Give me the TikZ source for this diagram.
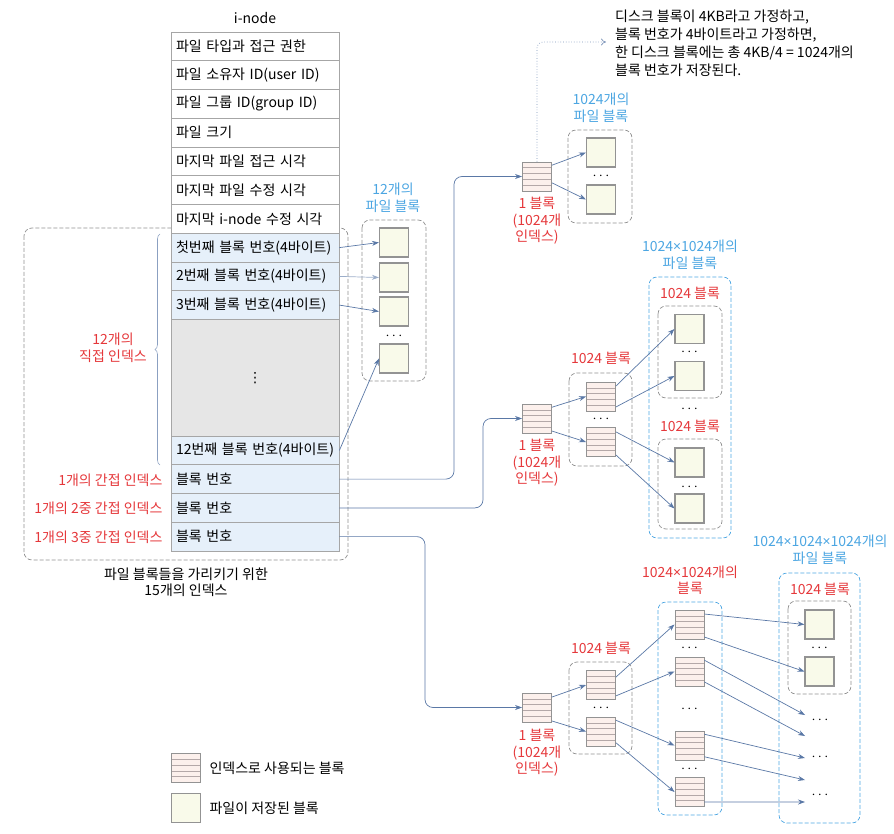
\documentclass[tikz,border=0pt]{standalone}
\usepackage{fontspec}
\setmainfont{Noto Sans CJK KR}
\newfontfamily\latinfont{Noto Sans}
\newfontfamily\symfont{DejaVu Sans}
\newcommand{\mul}{{\latinfont ×}}
\usetikzlibrary{arrows.meta, calc, decorations.pathreplacing}

\definecolor{tblgray}{HTML}{A6A6A6}
\definecolor{rowblue}{HTML}{E6F0FA}
\definecolor{gapgray}{HTML}{E6E6E6}
\definecolor{idxpink}{HTML}{FCF0EC}
\definecolor{idxline}{HTML}{B4A8A8}
\definecolor{fileyel}{HTML}{F9FAEA}
\definecolor{boxgray}{HTML}{909090}
\definecolor{arrblue}{HTML}{5A78A6}
\definecolor{lblred}{HTML}{E5383B}
\definecolor{lblblue}{HTML}{4CA6E2}

\tikzset{
  irow/.style={draw=tblgray, line width=0.8pt, fill=white, minimum width=168pt,
    minimum height=28.75pt, text width=158pt, inner xsep=5pt, inner ysep=0pt, align=left},
  fblock/.style={draw=gray!85, line width=1.1pt, fill=fileyel, minimum width=29pt,
    minimum height=29pt, inner sep=0pt},
  iblock/.style={draw=gray!85, line width=0.9pt, fill=idxpink, minimum width=29pt,
    minimum height=29pt, inner sep=0pt,
    path picture={\foreach \k in {0.2,0.4,0.6,0.8}
      \draw[idxline, line width=0.6pt]
        ($(path picture bounding box.north west)!\k!(path picture bounding box.south west)$) --
        ($(path picture bounding box.north east)!\k!(path picture bounding box.south east)$);}},
  grp/.style={draw=boxgray, dash pattern=on 4pt off 2pt, line width=0.7pt, rounded corners=8pt},
  bgrp/.style={grp, draw=lblblue},
  conn/.style={draw=arrblue, line width=0.7pt, -{Stealth[length=7pt,width=5pt]}},
  redlbl/.style={text=lblred, align=center, font=\fontsize{14}{16.5}\selectfont},
  bluelbl/.style={text=lblblue, align=center, font=\fontsize{14}{17.5}\selectfont},
  dotsn/.style={inner sep=0pt},
}

\begin{document}
\begin{tikzpicture}[x=1pt, y=-1pt, font=\fontsize{14}{16}\selectfont]
  \useasboundingbox (0,0) rectangle (894,834);

  % gruppi tratteggiati
  \draw[grp] (24,228) rectangle (348,560);
  \draw[grp] (362,220) rectangle (426,381);
  \draw[grp] (568,130) rectangle (632,223);
  \draw[grp] (569,373) rectangle (632,466);
  \draw[bgrp] (649,277) rectangle (731,538);
  \draw[grp] (658,306) rectangle (722,398);
  \draw[grp] (658,439) rectangle (722,529);
  \draw[grp] (569,662) rectangle (632,754);
  \draw[bgrp] (658,602) rectangle (722,815);
  \draw[bgrp] (779,573) rectangle (860,823);
  \draw[grp] (788,601) rectangle (851,694);

  % tabella i-node
  \node (inode) at (255,18) {i-node};
  \foreach \txt [count=\i] in {파일 타입과 접근 권한, 파일 소유자 ID(user ID), 파일 그룹 ID(group ID),
      파일 크기, 마지막 파일 접근 시각, 마지막 파일 수정 시각, 마지막 i-node 수정 시각}
    \node[irow] (r\i) at (255, {32+28.75*\i-14.375}) {\txt};
  \node[irow, fill=rowblue] (d1) at (255,247.6) {첫번째 블록 번호(4바이트)};
  \node[irow, fill=rowblue] (d2) at (255,276.4) {2번째 블록 번호(4바이트)};
  \node[irow, fill=rowblue] (d3) at (255,305.1) {3번째 블록 번호(4바이트)};
  \node[irow, fill=gapgray, minimum height=116.5pt, align=center] (gap) at (255,377.75) {\symfont ⋮};
  \node[irow, fill=rowblue] (d12) at (255,450.4) {\mbox{12번째 블록 번호(4바이트)}};
  \node[irow, fill=rowblue] (ind1) at (255,479.1) {블록 번호};
  \node[irow, fill=rowblue] (ind2) at (255,507.9) {블록 번호};
  \node[irow, fill=rowblue] (ind3) at (255,536.6) {블록 번호};

  % etichette a sinistra
  \draw[draw=arrblue!70, line width=0.6pt, decorate, decoration={brace, amplitude=5pt}] (160,465) -- (160,234);
  \node[redlbl] (dirlbl) at (113,348) {12개의\\직접 인덱스};
  \node[redlbl, anchor=east] (lbl1) at (166,480) {1개의 간접 인덱스};
  \node[redlbl, anchor=east] (lbl2) at (166,508) {1개의 2중 간접 인덱스};
  \node[redlbl, anchor=east] (lbl3) at (166,537) {1개의 3중 간접 인덱스};
  \node[align=center] (caption) at (186,582) {파일 블록들을 가리키기 위한\\15개의 인덱스};

  % blocchi diretti
  \node[bluelbl] (dirtitle) at (393,198) {12개의\\파일 블록};
  \node[fblock] (fd1) at (394,242.5) {};
  \node[fblock] (fd2) at (394,277.5) {};
  \node[fblock] (fd3) at (394,311.5) {};
  \node[dotsn] (fddots) at (394,336) {$\cdots$};
  \node[fblock] (fd4) at (394,358.5) {};
  \draw[conn] (d1.east) -- (fd1.west);
  \draw[conn, draw=arrblue!60] (d2.east) -- (fd2.west);
  \draw[conn] (d3.east) -- (fd3.west);
  \draw[conn] (d12.east) -- (fd4.west);

  % nota
  \node[anchor=west, align=left, inner sep=0pt, font=\fontsize{14}{18}\selectfont] (note) at (615,43)
    {디스크 블록이 4KB라고 가정하고,\\블록 번호가 4바이트라고 가정하면,\\한 디스크 블록에는 총 4KB/4 = 1024개의\\블록 번호가 저장된다.};

  % indiretto singolo
  \node[iblock] (ib1) at (537,176.5) {};
  \node[redlbl] (iblbl) at (537,221) {1 블록\\(1024개\\인덱스)};
  \node[bluelbl] (satitle) at (601,108) {1024개의\\파일 블록};
  \node[fblock] (fa1) at (601,152.5) {};
  \node[dotsn] (fadots) at (601,176) {$\cdots$};
  \node[fblock] (fa2) at (601,199.5) {};
  \coordinate (bendA) at (454,176.5);
  \coordinate (notetip) at (606,42);
  \draw[conn, rounded corners=8pt] (ind1.east) -| (bendA) -- (ib1.west);
  \draw[draw=arrblue!80, dotted, line width=0.7pt, rounded corners=6pt, -{To[length=5pt,width=7pt]}] (ib1.north) |- (notetip);
  \draw[conn] (ib1.37) -- (fa1.west);
  \draw[conn] (ib1.-23) -- (fa2.west);

  % indiretto doppio
  \node[iblock] (id0) at (537,418.5) {};
  \node[redlbl] (idlbl) at (537,463) {1 블록\\(1024개\\인덱스)};
  \node[redlbl] (idgrp) at (601,358) {1024 블록};
  \node[iblock] (id1) at (601,396.5) {};
  \node[dotsn] (iddots) at (601,419) {$\cdots$};
  \node[iblock] (id2) at (601,442) {};
  \node[bluelbl] (dbtitle) at (690,255) {1024\mul1024개의\\파일 블록};
  \node[redlbl] (fbgrp1) at (690,293) {1024 블록};
  \node[fblock] (fb1) at (689.5,329) {};
  \node[dotsn] (fbdots1) at (689.5,352) {$\cdots$};
  \node[fblock] (fb2) at (689.5,376) {};
  \node[dotsn] (fbdots) at (689.5,409) {$\cdots$};
  \node[redlbl] (fbgrp2) at (690,426) {1024 블록};
  \node[fblock] (fb3) at (689.5,462.5) {};
  \node[dotsn] (fbdots2) at (689.5,487) {$\cdots$};
  \node[fblock] (fb4) at (689.5,508.5) {};
  \coordinate (bendB) at (483,418.5);
  \draw[conn, rounded corners=8pt] (ind2.east) -| (bendB) -- (id0.west);
  \draw[conn] (id0.37) -- (id1.west);
  \draw[conn] (id0.-40) -- (id2.west);
  \draw[conn] (id1.35) -- (fb1.west);
  \draw[conn] (id1.-35) -- (fb2.west);
  \draw[conn] (id2.34) -- (fb3.west);
  \draw[conn] (id2.-41) -- (fb4.west);

  % indiretto triplo
  \node[iblock] (it0) at (537,707.5) {};
  \node[redlbl] (itlbl) at (537,753) {1 블록\\(1024개\\인덱스)};
  \node[redlbl] (itgrp) at (601,648) {1024 블록};
  \node[iblock] (it1) at (601,685) {};
  \node[dotsn] (itdots) at (601,708) {$\cdots$};
  \node[iblock] (it2) at (601,731.5) {};
  \node[redlbl] (imtitle) at (690,580) {1024\mul1024개의\\블록};
  \node[iblock] (im1) at (689.5,624.5) {};
  \node[dotsn] (imdots1) at (689.5,648) {$\cdots$};
  \node[iblock] (im2) at (689.5,671.5) {};
  \node[dotsn] (imdots2) at (689.5,709) {$\cdots$};
  \node[iblock] (im3) at (689.5,745.5) {};
  \node[dotsn] (imdots3) at (689.5,769) {$\cdots$};
  \node[iblock] (im4) at (689.5,792) {};
  \node[bluelbl] (tbtitle) at (820,550) {1024\mul1024\mul1024개의\\파일 블록};
  \node[redlbl] (fcgrp) at (820,589) {1024 블록};
  \node[fblock] (fc1) at (819.5,624.5) {};
  \node[dotsn] (fcdots) at (819.5,648) {$\cdots$};
  \node[fblock] (fc2) at (819.5,671.5) {};
  \node[dotsn] (edots1) at (820,720) {$\cdots$};
  \node[dotsn] (edots2) at (820,757) {$\cdots$};
  \node[dotsn] (edots3) at (820,795) {$\cdots$};
  \coordinate (e1) at (805,715);
  \coordinate (e2) at (805,736);
  \coordinate (e3) at (805,758);
  \coordinate (e4) at (805,780);
  \coordinate (e5) at (805,802);
  \coordinate (bendC) at (425,707.5);
  \draw[conn, rounded corners=8pt] (ind3.east) -| (bendC) -- (it0.west);
  \draw[conn] (it0.35) -- (it1.west);
  \draw[conn] (it0.-42) -- (it2.west);
  \draw[conn] (it1.28) -- (im1.west);
  \draw[conn] (it1.-36) -- (im2.west);
  \draw[conn] (it2.37) -- (im3.west);
  \draw[conn] (it2.-37) -- (im4.west);
  \draw[conn] (im1.35) -- (fc1.west);
  \draw[conn] (im1.-40) -- (fc2.west);
  \draw[conn] (im2.37) -- (e1);
  \draw[conn] (im2.-35) -- (e2);
  \draw[conn] (im3.37) -- (e3);
  \draw[conn] (im3.-37) -- (e4);
  \draw[conn] (im4.-34) -- (e5);

  % legenda
  \node[iblock] (legidx) at (186,768) {};
  \node[anchor=west] (legidxt) at (206,768) {인덱스로 사용되는 블록};
  \node[fblock] (legfile) at (186,808) {};
  \node[anchor=west] (legfilet) at (206,808) {파일이 저장된 블록};
\end{tikzpicture}
\end{document}
